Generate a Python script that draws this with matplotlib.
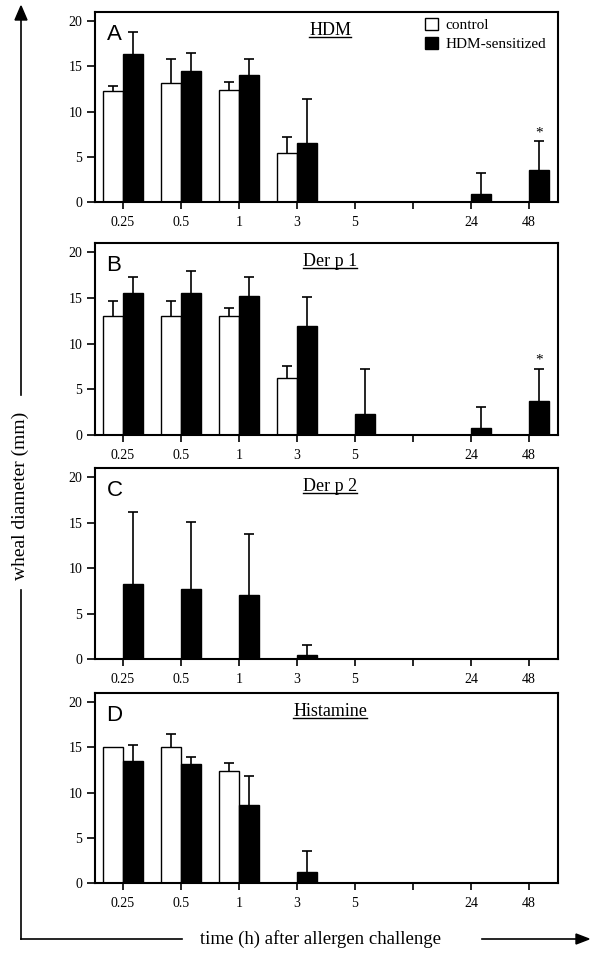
import numpy as np
import matplotlib
matplotlib.use('Agg')
import matplotlib.pyplot as plt
from matplotlib.patches import Patch
from matplotlib.lines import Line2D

plt.rcParams['font.family'] = ['Liberation Serif', 'DejaVu Serif']

# Eje x: tiempos tras la provocación (la 6a posición no tiene etiqueta)
time_labels = ['0.25', '0.5', '1', '3', '5', '', '24', '48']

# Panel A - HDM
ctrl_A = [12.3, 13.2, 12.4, 5.4, 0, 0, 0, 0]
ctrl_A_err = [0.5, 2.6, 0.9, 1.8, 0, 0, 0, 0]
hdm_A = [16.4, 14.5, 14.0, 6.5, 0, 0, 0.9, 3.5]
hdm_A_err = [2.4, 2.0, 1.8, 4.9, 0, 0, 2.3, 3.2]

# Panel B - Der p 1
ctrl_B = [13.0, 13.0, 13.0, 6.2, 0, 0, 0, 0]
ctrl_B_err = [1.7, 1.7, 0.85, 1.4, 0, 0, 0, 0]
hdm_B = [15.5, 15.5, 15.2, 11.9, 2.25, 0, 0.78, 3.7]
hdm_B_err = [1.8, 2.4, 2.1, 3.2, 5.0, 0, 2.3, 3.55]

# Panel C - Der p 2
ctrl_C = [0, 0, 0, 0, 0, 0, 0, 0]
ctrl_C_err = [0, 0, 0, 0, 0, 0, 0, 0]
hdm_C = [8.3, 7.7, 7.05, 0.45, 0, 0, 0, 0]
hdm_C_err = [7.9, 7.4, 6.7, 1.05, 0, 0, 0, 0]

# Panel D - Histamine
ctrl_D = [15.0, 15.0, 12.4, 0, 0, 0, 0, 0]
ctrl_D_err = [0, 1.5, 0.9, 0, 0, 0, 0, 0]
hdm_D = [13.5, 13.2, 8.6, 1.2, 0, 0, 0, 0]
hdm_D_err = [1.7, 0.7, 3.2, 2.3, 0, 0, 0, 0]

# Marcas de significación (índice de tiempo) por panel
stars_A = [7]
stars_B = [7]

W = 600
H = 975


def px_rect(left, top, right, bottom):
    """
    Convierte un rectángulo en píxeles a coordenadas de figura
    """
    return [left / W, 1 - bottom / H, (right - left) / W, (bottom - top) / H]


def dibujar_panel(ax, letra, titulo, ctrl, ctrl_err, hdm, hdm_err, estrellas):
    """
    Dibuja un panel de barras con barras de error solo hacia arriba
    """
    x = np.arange(len(time_labels))
    ancho = 0.34

    ax.bar(x, ctrl, width=-ancho, align='edge', color='white',
           edgecolor='black', linewidth=1.0, zorder=2)
    ax.bar(x, hdm, width=ancho, align='edge', color='black',
           edgecolor='black', linewidth=1.0, zorder=2)

    # Barras de error (solo donde hay error, sin tapa inferior)
    for xs, vals, errs in [(x - ancho / 2, ctrl, ctrl_err), (x + ancho / 2, hdm, hdm_err)]:
        vals = np.array(vals)
        errs = np.array(errs)
        m = errs > 0
        if m.any():
            _, caps, _ = ax.errorbar(xs[m], vals[m], yerr=[np.zeros(m.sum()), errs[m]],
                                     fmt='none', ecolor='black', elinewidth=1.2,
                                     capsize=3.6, capthick=1.2, zorder=3)
            caps[0].set_visible(False)

    for i in estrellas:
        ax.text(x[i] + ancho / 2, hdm[i] + hdm_err[i] + 0.2, '*',
                ha='center', va='bottom', fontsize=11)

    ax.set_xlim(-0.48, 7.5)
    ax.set_ylim(0, 21)
    ax.set_xticks(x)
    ax.set_xticklabels(time_labels, fontsize=10)
    ax.set_yticks([0, 5, 10, 15, 20])
    ax.set_yticklabels(['0', '5', '10', '15', '20'], fontsize=10)
    ax.tick_params(axis='x', direction='out', length=5, width=1.2, pad=5)
    ax.tick_params(axis='y', direction='out', length=6, width=1.2, pad=3)
    for s in ax.spines.values():
        s.set_linewidth(1.5)

    ax.text(0.025, 0.935, letra, transform=ax.transAxes, ha='left', va='top',
            fontsize=16, family='Liberation Sans')
    t = ax.text(0.508, 0.905, titulo, transform=ax.transAxes, ha='center',
                va='center', fontsize=13)
    return t


def main():
    fig = plt.figure(figsize=(W / 100, H / 100), dpi=100)

    paneles = [
        ('A', 'HDM', ctrl_A, ctrl_A_err, hdm_A, hdm_A_err, stars_A, 12, 202),
        ('B', 'Der p 1', ctrl_B, ctrl_B_err, hdm_B, hdm_B_err, stars_B, 243, 435),
        ('C', 'Der p 2', ctrl_C, ctrl_C_err, hdm_C, hdm_C_err, [], 468, 659),
        ('D', 'Histamine', ctrl_D, ctrl_D_err, hdm_D, hdm_D_err, [], 693, 883),
    ]

    titulos = []
    ejes = []
    for letra, titulo, c, ce, h, he, st, top, bottom in paneles:
        ax = fig.add_axes(px_rect(95, top, 558, bottom))
        titulos.append(dibujar_panel(ax, letra, titulo, c, ce, h, he, st))
        ejes.append(ax)

    # Leyenda en el panel A
    handles = [Patch(facecolor='white', edgecolor='black', linewidth=1.0),
               Patch(facecolor='black', edgecolor='black', linewidth=1.0)]
    ejes[0].legend(handles, ['control', 'HDM-sensitized'], loc='upper left',
                   bbox_to_anchor=(0.70, 1.0), frameon=False, fontsize=11,
                   handlelength=0.85, handleheight=0.85, handletextpad=0.5,
                   labelspacing=0.3, borderaxespad=0.2, borderpad=0.2)

    # Flechas de los ejes (en forma de L)
    def fx(px):
        return px / W

    def fy(py):
        return 1 - py / H

    lw = 1.2
    fig.add_artist(Line2D([fx(21), fx(182)], [fy(939), fy(939)], color='black', lw=lw))
    fig.add_artist(Line2D([fx(21), fx(21)], [fy(939), fy(590)], color='black', lw=lw))
    fig.add_artist(Line2D([fx(21), fx(21)], [fy(395), fy(20)], color='black', lw=lw))
    fig.add_artist(Line2D([fx(482), fx(576)], [fy(939), fy(939)], color='black', lw=lw))
    fig.patches.append(plt.Polygon([[fx(576), fy(934)], [fx(589), fy(939)], [fx(576), fy(944)]],
                                   closed=True, color='black', transform=fig.transFigure))
    fig.patches.append(plt.Polygon([[fx(15), fy(20)], [fx(21), fy(6)], [fx(27), fy(20)]],
                                   closed=True, color='black', transform=fig.transFigure))

    fig.text(fx(321), fy(939), 'time (h) after allergen challenge', ha='center',
             va='center', fontsize=13.5)
    fig.text(fx(20), fy(496), 'wheal diameter (mm)', ha='center', va='center',
             rotation=90, fontsize=14)

    # Subrayado de los títulos
    fig.canvas.draw()
    renderer = fig.canvas.get_renderer()
    inv = fig.transFigure.inverted()
    for t in titulos:
        bb = t.get_window_extent(renderer)
        (x0, y0), (x1, y1) = inv.transform([[bb.x0, bb.y0 + 2], [bb.x1, bb.y1]])
        fig.add_artist(Line2D([x0, x1], [y0, y0], color='black', lw=1.0))

    fig.savefig('out.png', dpi=100)


if __name__ == "__main__":
    main()
